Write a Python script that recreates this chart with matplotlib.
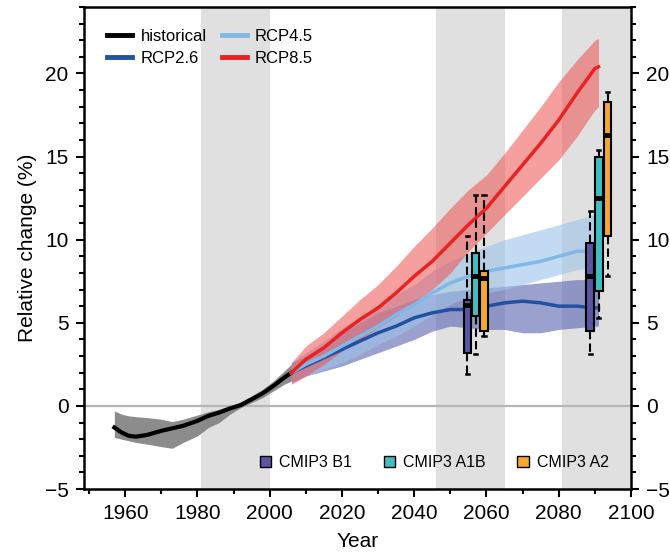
import matplotlib
matplotlib.use("Agg")
import matplotlib.pyplot as plt
from matplotlib.patches import Patch
from matplotlib.lines import Line2D
from matplotlib.ticker import MultipleLocator
import numpy as np

plt.rcParams['font.family'] = ['Liberation Sans', 'DejaVu Sans']

# historical
hist_year = [1957, 1959, 1961, 1963, 1966, 1970, 1973, 1976, 1980, 1983, 1986, 1989, 1992, 1995, 1998, 2001, 2004, 2006]
hist_mean = [-1.3, -1.6, -1.8, -1.85, -1.75, -1.5, -1.35, -1.2, -0.9, -0.6, -0.4, -0.15, 0.05, 0.4, 0.75, 1.2, 1.7, 2.0]
hist_lo = [-1.9, -2.0, -2.1, -2.2, -2.3, -2.45, -2.55, -2.2, -1.8, -1.3, -1.0, -0.5, -0.1, 0.2, 0.5, 0.9, 1.3, 1.5]
hist_hi = [-0.3, -0.5, -0.6, -0.65, -0.7, -0.8, -0.95, -0.8, -0.55, -0.35, -0.2, 0.0, 0.25, 0.6, 1.0, 1.5, 2.1, 2.5]

# projections
proj_year = [2006, 2010, 2015, 2020, 2025, 2030, 2035, 2040, 2045, 2050, 2055, 2060, 2065, 2070, 2075, 2080, 2085, 2090, 2091]
rcp26 = [2.0, 2.4, 2.9, 3.4, 3.9, 4.4, 4.8, 5.3, 5.6, 5.8, 5.8, 6.0, 6.2, 6.3, 6.2, 6.0, 6.0, 5.9, 5.9]
rcp26_lo = [1.4, 1.8, 2.1, 2.4, 2.8, 3.2, 3.6, 4.0, 4.5, 4.8, 4.7, 4.6, 4.6, 4.4, 4.4, 4.6, 4.7, 4.8, 4.8]
rcp26_hi = [2.6, 3.0, 3.7, 4.4, 5.0, 5.6, 6.0, 6.4, 6.7, 6.9, 7.0, 7.1, 7.2, 7.3, 7.4, 7.5, 7.6, 7.6, 7.6]
rcp45 = [2.0, 2.5, 3.0, 3.6, 4.2, 4.8, 5.5, 6.1, 6.8, 7.4, 7.8, 8.1, 8.3, 8.5, 8.7, 9.0, 9.3, 9.3, 9.3]
rcp45_lo = [1.4, 1.8, 2.2, 2.6, 3.1, 3.7, 4.2, 4.8, 5.5, 6.1, 6.6, 6.8, 7.0, 7.3, 7.6, 7.9, 8.2, 8.3, 8.3]
rcp45_hi = [2.6, 3.2, 3.9, 4.7, 5.3, 6.0, 6.7, 7.3, 8.1, 8.7, 9.2, 9.6, 10.0, 10.3, 10.6, 10.9, 11.2, 11.5, 11.5]
rcp85 = [2.0, 2.8, 3.5, 4.4, 5.2, 5.9, 6.8, 7.8, 8.7, 9.8, 10.9, 11.9, 13.2, 14.5, 15.8, 17.2, 18.8, 20.3, 20.4]
rcp85_lo = [1.3, 1.8, 2.5, 3.3, 4.0, 4.7, 5.4, 6.2, 7.0, 8.0, 9.3, 10.4, 11.5, 12.6, 13.7, 14.8, 16.2, 17.8, 18.0]
rcp85_hi = [2.6, 3.6, 4.4, 5.4, 6.4, 7.3, 8.4, 9.6, 10.7, 11.9, 13.0, 13.9, 15.2, 16.6, 18.0, 19.5, 20.8, 22.0, 22.1]

# CMIP3 boxes: (whislo, q1, med, q3, whishi)
cmip3_names = ["CMIP3 B1", "CMIP3 A1B", "CMIP3 A2"]
cmip3_colors = ["#5a54a4", "#3fbfbf", "#f5a732"]
pos_2055 = [2054.7, 2057.0, 2059.3]
pos_2090 = [2088.7, 2091.1, 2093.5]
stats_2055 = [(1.9, 3.2, 6.1, 6.4, 10.2), (3.1, 5.4, 7.8, 9.2, 12.7), (4.2, 4.5, 7.7, 8.1, 12.7)]
stats_2090 = [(3.1, 4.5, 7.8, 9.8, 11.7), (5.3, 6.9, 12.5, 15.0, 15.4), (7.8, 10.2, 16.3, 18.3, 18.9)]

periods = [(1981, 2000), (2046, 2065), (2081, 2100)]

fig = plt.figure(figsize=(6.7, 5.59), dpi=100)
ax = fig.add_axes([0.1254, 0.1252, 0.8164, 0.8623])

for a, b in periods:
    ax.axvspan(a, b, color="#e0e0e0", lw=0, zorder=0)
ax.axhline(0, color="#b5b5b5", lw=1.6, zorder=1)

ax.fill_between(hist_year, hist_lo, hist_hi, color="#808080", alpha=0.9, lw=0, zorder=2)
ax.fill_between(proj_year, rcp26_lo, rcp26_hi, color="#5862b0", alpha=0.6, lw=0, zorder=2)
ax.fill_between(proj_year, rcp45_lo, rcp45_hi, color="#9cc4ea", alpha=0.6, lw=0, zorder=2)
ax.fill_between(proj_year, rcp85_lo, rcp85_hi, color="#f05050", alpha=0.55, lw=0, zorder=2)

ax.plot(hist_year, hist_mean, color="black", lw=3, zorder=4)
ax.plot(proj_year, rcp26, color="#2350a0", lw=2.5, zorder=4)
ax.plot(proj_year, rcp45, color="#82b8e6", lw=2.5, zorder=4)
ax.plot(proj_year, rcp85, color="#e82222", lw=2.5, zorder=4)

for positions, stats in [(pos_2055, stats_2055), (pos_2090, stats_2090)]:
    for p, s, c in zip(positions, stats, cmip3_colors):
        st = [dict(whislo=s[0], q1=s[1], med=s[2], q3=s[3], whishi=s[4], fliers=[])]
        ax.bxp(st, positions=[p], widths=2.1, patch_artist=True, showfliers=False,
               manage_ticks=False, zorder=5,
               boxprops=dict(facecolor=c, edgecolor="black", lw=1.5),
               medianprops=dict(color="black", lw=3.5),
               whiskerprops=dict(color="black", lw=1.5, ls=(0, (4, 2))),
               capprops=dict(color="black", lw=1.8), capwidths=0.9)

ax.set_xlim(1948.6, 2100)
ax.set_ylim(-5, 24)
ax.xaxis.set_major_locator(MultipleLocator(20))
ax.xaxis.set_minor_locator(MultipleLocator(10))
ax.yaxis.set_major_locator(MultipleLocator(5))
ax.yaxis.set_minor_locator(MultipleLocator(1))
ax.set_yticks([-5, 0, 5, 10, 15, 20])
ax.set_yticklabels(["\u22125", "0", "5", "10", "15", "20"])
ax.tick_params(which="both", direction="out", width=1.5, labelsize=15, right=True, labelright=True)
ax.tick_params(which="major", length=6, pad=5)
ax.tick_params(which="minor", length=3.5)
for sp in ax.spines.values():
    sp.set_linewidth(1.8)

ax.set_xlabel("Year", fontsize=15, labelpad=6)
ax.set_ylabel("Relative change (%)", fontsize=15, labelpad=6)

h1 = [Line2D([], [], color="black", lw=3.5),
      Line2D([], [], color="#2350a0", lw=3.5),
      Line2D([], [], color="#82b8e6", lw=3.5),
      Line2D([], [], color="#e82222", lw=3.5)]
leg1 = ax.legend(h1, ["historical", "RCP2.6", "RCP4.5", "RCP8.5"], ncol=2, loc="upper left",
                 bbox_to_anchor=(0.015, 0.985), frameon=False, fontsize=12, handlelength=1.5,
                 handletextpad=0.5, columnspacing=0.9, labelspacing=0.4)
ax.add_artist(leg1)

h2 = [Patch(facecolor=c, edgecolor="black", lw=1) for c in cmip3_colors]
ax.legend(h2, cmip3_names, ncol=3, loc="lower right", bbox_to_anchor=(0.985, 0.01), frameon=False,
          fontsize=11.5, handlelength=0.7, handleheight=0.7, handletextpad=0.5, columnspacing=2.0)

fig.savefig("out.png", dpi=100)
